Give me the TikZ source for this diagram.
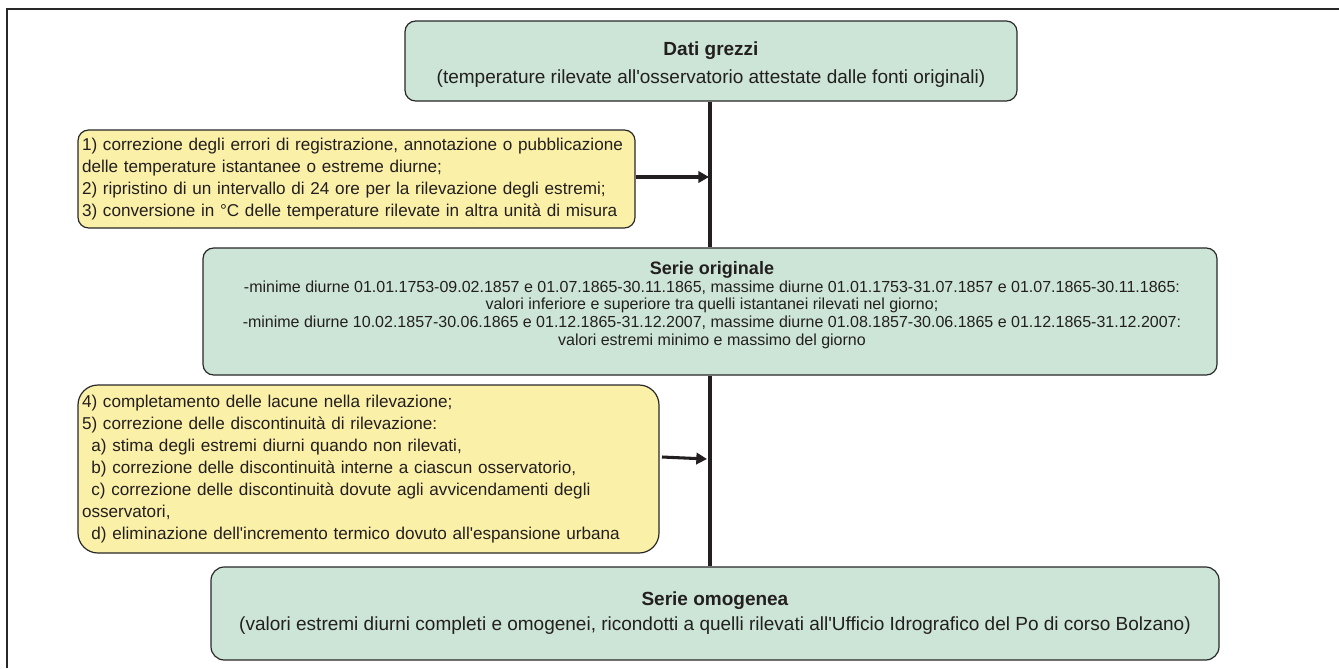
\documentclass[tikz,border=0pt]{standalone}
\usepackage{fontspec}
\setmainfont{Liberation Sans}[Ligatures=TeXOff]
\usetikzlibrary{arrows.meta}
\definecolor{boxgreen}{RGB}{204,229,214}
\definecolor{boxyellow}{RGB}{250,240,168}
\definecolor{edgegray}{RGB}{40,40,40}
\definecolor{txt}{RGB}{35,31,32}
\hyphenpenalty=10000
\exhyphenpenalty=10000
\begin{document}
\begin{tikzpicture}[x=0.75pt,y=-0.75pt,
  greenbox/.style={draw=edgegray,line width=0.9pt,fill=boxgreen,rounded corners=8pt,inner sep=0pt,align=center,text=txt},
  yellowbox/.style={draw=edgegray,line width=0.9pt,fill=boxyellow,rounded corners=8pt,inner xsep=3pt,inner ysep=0pt,align=left,text=txt},
  plaintext/.style={inner sep=0pt,align=center,text=txt},
  trunk/.style={line width=2.3pt,draw=txt},
  arr/.style={line width=2.3pt,draw=txt,-{Triangle[length=8pt,width=8.5pt]}},
  frameline/.style={line width=1.1pt,draw=edgegray}]
\useasboundingbox (0,0) rectangle (1339,668);
\draw[frameline] (7,668) -- (7,9) -- (1339,9);
\coordinate (tx) at (710,0);
% boxes
\node[greenbox, minimum width=459pt, minimum height=60pt] (dati) at (711,61) {};
\node[plaintext, font=\fontsize{14.25}{21}\selectfont] (datitext) at (711,64.5)
  {\textbf{Dati grezzi}\\(temperature rilevate all'osservatorio attestate dalle fonti originali)};
\node[yellowbox, text width=411.75pt, minimum height=73.5pt, font=\fontsize{12.85}{16.5}\selectfont] (y1) at (356.5,179)
  {1) correzione degli errori di registrazione, annotazione o pubblicazione\\
   delle temperature istantanee o estreme diurne;\\
   2) ripristino di un intervallo di 24 ore per la rilevazione degli estremi;\\
   3) conversione in °C delle temperature rilevate in altra unità di misura};
\node[greenbox, minimum width=760.5pt, minimum height=95.25pt] (orig) at (710,311.5) {};
\node[plaintext, font=\fontsize{12}{13.2}\selectfont] (origtext) at (712,305)
  {{\fontsize{13.5}{14.25}\selectfont\bfseries Serie originale}\\
   -minime diurne 01.01.1753-09.02.1857 e 01.07.1865-30.11.1865, massime diurne 01.01.1753-31.07.1857 e 01.07.1865-30.11.1865:\\
   valori inferiore e superiore tra quelli istantanei rilevati nel giorno;\\
   -minime diurne 10.02.1857-30.06.1865 e 01.12.1865-31.12.2007, massime diurne 01.08.1857-30.06.1865 e 01.12.1865-31.12.2007:\\
   valori estremi minimo e massimo del giorno};
\node[yellowbox, rounded corners=15pt, text width=429.75pt, minimum height=126pt, font=\fontsize{12.85}{16.4}\selectfont] (y2) at (368.5,469)
  {4) completamento delle lacune nella rilevazione;\\
   5) correzione delle discontinuità di rilevazione:\\
   \hspace*{0.55em}a) stima degli estremi diurni quando non rilevati,\\
   \hspace*{0.55em}b) correzione delle discontinuità interne a ciascun osservatorio,\\
   \hspace*{0.55em}c) correzione delle discontinuità dovute agli avvicendamenti degli\\
   osservatori,\\
   \hspace*{0.55em}d) eliminazione dell'incremento termico dovuto all'espansione urbana};
\node[greenbox, rounded corners=10pt, minimum width=756pt, minimum height=69.75pt, font=\fontsize{14.25}{18.75}\selectfont] (omog) at (715,613.5)
  {\textbf{Serie omogenea}\\(valori estremi diurni completi e omogenei, ricondotti a quelli rilevati all'Ufficio Idrografico del Po di corso Bolzano)};
% connectors
\draw[trunk] (dati.south -| tx) -- (orig.north -| tx);
\draw[trunk] (orig.south -| tx) -- (omog.north -| tx);
\coordinate (a1) at (709,177);
\draw[arr] (y1.east |- a1) -- (a1);
\coordinate (a2s) at (662,457);
\coordinate (a2e) at (707,459);
\draw[arr] (a2s) -- (a2e);
\end{tikzpicture}
\end{document}
